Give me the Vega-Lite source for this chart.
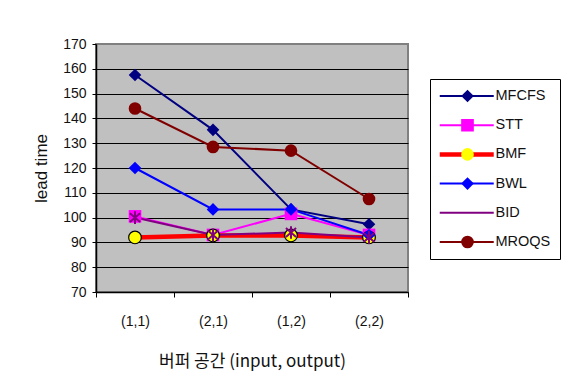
{
  "$schema": "https://vega.github.io/schema/vega-lite/v6.json",
  "width": 312,
  "height": 248,
  "autosize": {"type": "none"},
  "padding": {"left": 96, "top": 44, "right": 154, "bottom": 96},
  "background": "white",
  "config": {
    "font": "Liberation Sans",
    "view": {"fill": "#C0C0C0", "stroke": "#808080", "strokeWidth": 2},
    "axis": {
      "labelFont": "Liberation Sans",
      "labelColor": "#111111",
      "labelFontSize": 14,
      "titleColor": "#111111",
      "titleFontWeight": "normal",
      "domainColor": "#000000",
      "domainWidth": 1.5,
      "tickColor": "#000000",
      "tickWidth": 1
    }
  },
  "data": {
    "values": [
      {"pos": "(1,1)", "series": "MFCFS", "value": 157.5},
      {"pos": "(2,1)", "series": "MFCFS", "value": 135.4},
      {"pos": "(1,2)", "series": "MFCFS", "value": 103.3},
      {"pos": "(2,2)", "series": "MFCFS", "value": 97.3},
      {"pos": "(1,1)", "series": "STT", "value": 100.5},
      {"pos": "(2,1)", "series": "STT", "value": 93},
      {"pos": "(1,2)", "series": "STT", "value": 101.5},
      {"pos": "(2,2)", "series": "STT", "value": 93},
      {"pos": "(1,1)", "series": "BMF", "value": 92},
      {"pos": "(2,1)", "series": "BMF", "value": 92.8},
      {"pos": "(1,2)", "series": "BMF", "value": 92.8},
      {"pos": "(2,2)", "series": "BMF", "value": 92},
      {"pos": "(1,1)", "series": "BWL", "value": 120},
      {"pos": "(2,1)", "series": "BWL", "value": 103.3},
      {"pos": "(1,2)", "series": "BWL", "value": 103.3},
      {"pos": "(2,2)", "series": "BWL", "value": 93},
      {"pos": "(1,1)", "series": "BID", "value": 100},
      {"pos": "(2,1)", "series": "BID", "value": 93},
      {"pos": "(1,2)", "series": "BID", "value": 94},
      {"pos": "(2,2)", "series": "BID", "value": 92},
      {"pos": "(1,1)", "series": "MROQS", "value": 144},
      {"pos": "(2,1)", "series": "MROQS", "value": 128.5},
      {"pos": "(1,2)", "series": "MROQS", "value": 127},
      {"pos": "(2,2)", "series": "MROQS", "value": 107.5}
    ]
  },
  "encoding": {
    "x": {
      "field": "pos",
      "type": "nominal",
      "sort": ["(1,1)", "(2,1)", "(1,2)", "(2,2)"],
      "scale": {"type": "band", "paddingInner": 0, "paddingOuter": 0},
      "axis": {
        "title": "버퍼 공간 (input, output)",
        "titleFont": "Noto Sans CJK KR",
        "titleFontSize": 17,
        "titlePadding": 25,
        "labelAngle": 0,
        "labelPadding": 17,
        "tickBand": "extent",
        "tickSize": 5,
        "grid": false
      }
    },
    "y": {
      "field": "value",
      "type": "quantitative",
      "scale": {"domain": [70, 170], "nice": false, "zero": false},
      "axis": {
        "title": "lead time",
        "titleFontSize": 17,
        "titlePadding": 12,
        "values": [70, 80, 90, 100, 110, 120, 130, 140, 150, 160, 170],
        "tickSize": 4,
        "labelPadding": 6,
        "grid": true,
        "gridColor": {"condition": {"test": "datum.value >= 170", "value": "#808080"}, "value": "#000000"},
        "gridWidth": 1,
        "gridOpacity": 1
      }
    }
  },
  "resolve": {"scale": {"color": "independent", "shape": "independent"}},
  "layer": [
    {
      "mark": {"type": "line"},
      "encoding": {
        "color": {
          "field": "series",
          "type": "nominal",
          "scale": {
            "domain": ["MFCFS", "STT", "BMF", "BWL", "BID", "MROQS"],
            "range": ["#000080", "#FF00FF", "#FF0000", "#0000FF", "#800080", "#800000"]
          },
          "legend": {
            "title": null,
            "orient": "none",
            "legendX": 334,
            "legendY": 35,
            "padding": 9,
            "strokeColor": "#000000",
            "fillColor": "#FFFFFF",
            "symbolType": "stroke",
            "symbolSize": 2916,
            "symbolStrokeWidth": 2,
            "symbolOffset": 20.5,
            "clipHeight": 16,
            "rowPadding": 13.2,
            "labelFont": "Liberation Sans",
            "labelFontSize": 14.5,
            "labelColor": "#111111",
            "labelOffset": 21.5,
            "encode": {
              "symbols": {"update": {"strokeWidth": {"signal": "datum.value === 'BMF' ? 4.5 : 2"}}}
            }
          }
        },
        "strokeWidth": {"condition": {"test": "datum.series === 'BMF'", "value": 4.5}, "value": 2}
      }
    },
    {
      "mark": {"type": "point", "filled": true, "size": 160, "opacity": 1},
      "encoding": {
        "color": {
          "field": "series",
          "type": "nominal",
          "scale": {
            "domain": ["MFCFS", "STT", "BMF", "BWL", "BID", "MROQS"],
            "range": ["#000080", "#FF00FF", "#FFFF00", "#0000FF", "#800080", "#800000"]
          },
          "legend": {
            "title": null,
            "orient": "none",
            "legendX": 334,
            "legendY": 35,
            "padding": 9,
            "strokeColor": "transparent",
            "fillColor": "transparent",
            "symbolSize": 160,
            "symbolOffset": 21,
            "clipHeight": 16,
            "rowPadding": 13.2,
            "labelFontSize": 14.5,
            "labelExpr": "''",
            "encode": {
              "symbols": {
                "update": {
                  "stroke": {"signal": "datum.value === 'BMF' ? '#000000' : datum.value === 'BID' ? '#800080' : 'transparent'"},
                  "strokeWidth": {"signal": "datum.value === 'BID' ? 2 : 1.2"}
                }
              }
            }
          }
        },
        "shape": {
          "field": "series",
          "type": "nominal",
          "scale": {
            "domain": ["MFCFS", "STT", "BMF", "BWL", "BID", "MROQS"],
            "range": ["diamond", "square", "circle", "diamond", "M0,-1V1M-0.8,-0.7L0.8,0.7M-0.8,0.7L0.8,-0.7", "circle"]
          },
          "legend": {
            "title": null,
            "orient": "none",
            "legendX": 334,
            "legendY": 35,
            "padding": 9,
            "strokeColor": "transparent",
            "fillColor": "transparent",
            "symbolSize": 160,
            "symbolOffset": 21,
            "clipHeight": 16,
            "rowPadding": 13.2,
            "labelFontSize": 14.5,
            "labelExpr": "''",
            "encode": {
              "symbols": {
                "update": {
                  "stroke": {"signal": "datum.value === 'BMF' ? '#000000' : datum.value === 'BID' ? '#800080' : 'transparent'"},
                  "strokeWidth": {"signal": "datum.value === 'BID' ? 2 : 1.2"}
                }
              }
            }
          }
        },
        "stroke": {
          "condition": [
            {"test": "datum.series === 'BMF'", "value": "#000000"},
            {"test": "datum.series === 'BID'", "value": "#800080"}
          ],
          "value": "transparent"
        },
        "strokeWidth": {"condition": {"test": "datum.series === 'BID'", "value": 2}, "value": 1.2}
      }
    }
  ]
}
